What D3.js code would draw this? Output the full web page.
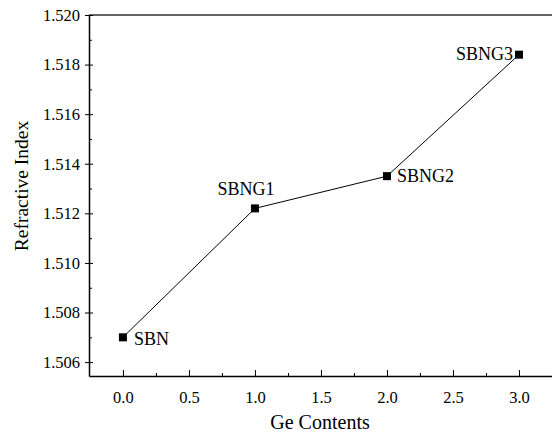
<!DOCTYPE html>
<html><head><meta charset="utf-8">
<script src="https://cdn.jsdelivr.net/npm/d3@7"></script>
<style>body{margin:0;background:#fff;} svg{display:block;} svg text{font-family:"Liberation Serif","Times New Roman",serif;fill:#000;}</style>
</head><body>
<script>
const samples = ["SBN","SBNG1","SBNG2","SBNG3"];
const geContents = [0.0, 1.0, 2.0, 3.0];
const refractiveIndex = [1.5070, 1.5122, 1.5135, 1.5184];
const xTicks = [0.0,0.5,1.0,1.5,2.0,2.5,3.0];
const yTicks = [1.506,1.508,1.510,1.512,1.514,1.516,1.518,1.520];

const W=552,H=435;
const svg=d3.select("body").append("svg").attr("width",W).attr("height",H);
const x=d3.scaleLinear().domain([-0.257,3.25]).range([89,552]);
const y=d3.scaleLinear().domain([1.50544,1.520]).range([376,15]);

// frame
svg.append("line").attr("x1",89).attr("x2",552).attr("y1",15).attr("y2",15).attr("stroke","#333").attr("stroke-width",1.5);

// x axis
const xa=svg.append("g").attr("transform","translate(0,376)")
 .call(d3.axisBottom(x).tickValues(xTicks).tickFormat(d3.format(".1f")).tickSizeInner(-6).tickSizeOuter(0).tickPadding(15));
xa.attr("font-family",null).attr("font-size",null);
xa.select(".domain").attr("stroke","#000").attr("stroke-width",1.5);
xa.selectAll("text").style("font-size","16.5px");
svg.append("g").attr("transform","translate(0,376)")
 .call(d3.axisBottom(x).tickValues([0.25,0.75,1.25,1.75,2.25,2.75]).tickFormat("").tickSizeInner(-3).tickSizeOuter(0))
 .select(".domain").remove();

// y axis
const ya=svg.append("g").attr("transform","translate(89,0)")
 .call(d3.axisLeft(y).tickValues(yTicks).tickFormat(d3.format(".3f")).tickSizeInner(4).tickSizeOuter(0).tickPadding(5));
ya.attr("font-family",null).attr("font-size",null);
ya.select(".domain").attr("stroke","#000").attr("stroke-width",1.5);
ya.selectAll("text").style("font-size","16.5px");
ya.selectAll(".tick line").clone().attr("x2",4);
svg.append("g").attr("transform","translate(89,0)")
 .call(d3.axisRight(y).tickValues([1.507,1.509,1.511,1.513,1.515,1.517,1.519]).tickFormat("").tickSizeInner(3).tickSizeOuter(0))
 .select(".domain").remove();

// titles
svg.append("text").attr("x",320).attr("y",429).attr("text-anchor","middle").style("font-size","20px").text("Ge Contents");
svg.append("text").attr("transform","translate(28,186) rotate(-90)").attr("text-anchor","middle").style("font-size","19.5px").text("Refractive Index");

// line and markers
const pts=geContents.map((g,i)=>({x:g,y:refractiveIndex[i],s:samples[i]}));
svg.append("path").datum(pts).attr("fill","none").attr("stroke","#000").attr("stroke-width",1)
 .attr("d",d3.line().x(d=>x(d.x)).y(d=>y(d.y)));
svg.selectAll("rect.m").data(pts).enter().append("rect").attr("class","m")
 .attr("x",d=>x(d.x)-4).attr("y",d=>y(d.y)-4).attr("width",8).attr("height",8).attr("fill","#000");

// labels
const off=[{dx:11,dy:8,a:"start"},{dx:-9,dy:-13,a:"middle"},{dx:10,dy:6,a:"start"},{dx:-6,dy:5,a:"end"}];
svg.selectAll("text.lab").data(pts).enter().append("text").attr("class","lab")
 .attr("x",(d,i)=>x(d.x)+off[i].dx).attr("y",(d,i)=>y(d.y)+off[i].dy)
 .attr("text-anchor",(d,i)=>off[i].a).style("font-size","18px").text(d=>d.s);
</script>
</body></html>
